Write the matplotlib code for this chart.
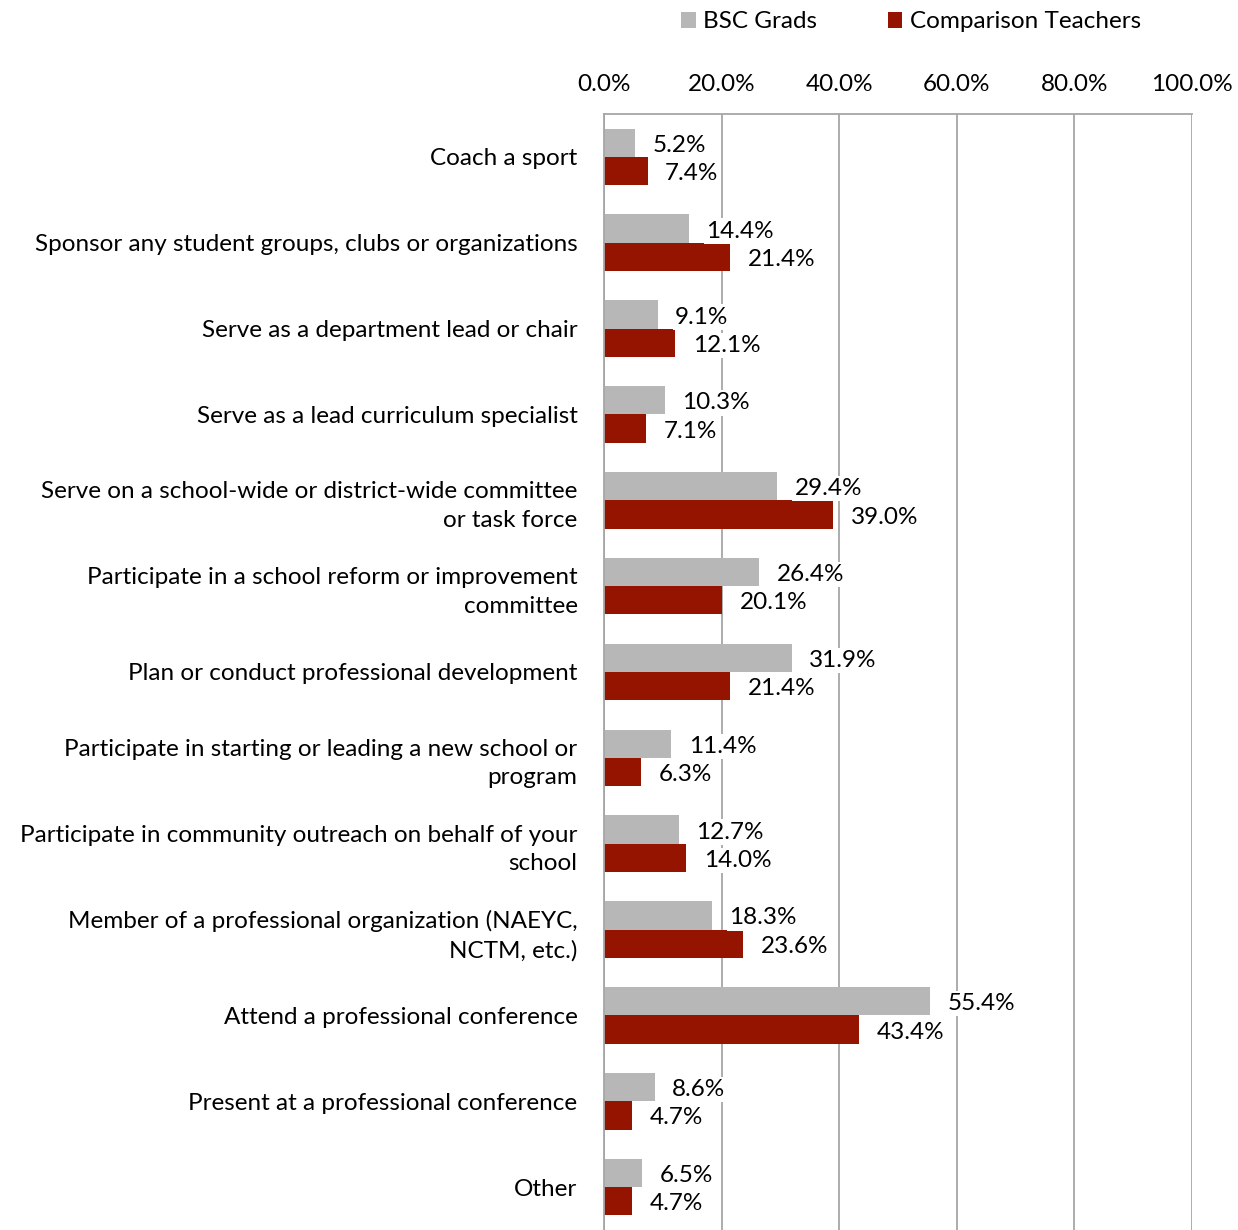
import numpy as np
import matplotlib.pyplot as plt
from matplotlib.ticker import FuncFormatter

plt.rcParams['font.family'] = ['Lato', 'DejaVu Sans']

categories = [
    'Coach a sport',
    'Sponsor any student groups, clubs or organizations',
    'Serve as a department lead or chair',
    'Serve as a lead curriculum specialist',
    'Serve on a school-wide or district-wide committee\nor task force',
    'Participate in a school reform or improvement\ncommittee',
    'Plan or conduct professional development',
    'Participate in starting or leading a new school or\nprogram',
    'Participate in community outreach on behalf of your\nschool',
    'Member of a professional organization (NAEYC,\nNCTM, etc.)',
    'Attend a professional conference',
    'Present at a professional conference',
    'Other',
]
bsc_grads = [5.2, 14.4, 9.1, 10.3, 29.4, 26.4, 31.9, 11.4, 12.7, 18.3, 55.4, 8.6, 6.5]
comparison = [7.4, 21.4, 12.1, 7.1, 39.0, 20.1, 21.4, 6.3, 14.0, 23.6, 43.4, 4.7, 4.7]
series_names = ['BSC Grads', 'Comparison Teachers']

GRAY = '#b7b7b7'
RED = '#951400'
GRID = '#a6a6a6'
FS = 17.5

fig = plt.figure(figsize=(12.38, 12.30), dpi=100)
ax = fig.add_axes([604 / 1238, 0.0, 588 / 1238, 1 - 114 / 1230])

y = np.arange(len(categories))
h = 0.33
b1 = ax.barh(y - h / 2, bsc_grads, height=h, color=GRAY, label=series_names[0], zorder=2)
b2 = ax.barh(y + h / 2, comparison, height=h, color=RED, label=series_names[1], zorder=2)

box = dict(facecolor='white', edgecolor='none', pad=1.5)
for yy, v in zip(y - h / 2, bsc_grads):
    ax.text(v + 3.0, yy + 0.03, f'{v:.1f}%', va='center', ha='left', fontsize=FS,
            bbox=box, zorder=3)
for yy, v in zip(y + h / 2, comparison):
    ax.text(v + 3.0, yy + 0.03, f'{v:.1f}%', va='center', ha='left', fontsize=FS,
            bbox=box, zorder=3)

ax.set_xlim(0, 100)
ax.set_ylim(len(categories) - 0.5, -0.5)
ax.set_xticks(np.arange(0, 101, 20))
ax.xaxis.set_major_formatter(FuncFormatter(lambda v, p: f'{v:.1f}%'))
ax.xaxis.tick_top()
ax.set_yticks(y)
ax.set_yticklabels(categories, fontsize=FS, linespacing=1.45)
ax.tick_params(axis='both', length=0, labelsize=FS)
ax.tick_params(axis='x', pad=14)
ax.tick_params(axis='y', pad=19)
ax.grid(axis='x', color=GRID, linewidth=1.3, zorder=0)
ax.set_axisbelow(True)
for s in ['bottom', 'right']:
    ax.spines[s].set_visible(False)
for s in ['top', 'left']:
    ax.spines[s].set_color(GRID)
    ax.spines[s].set_linewidth(1.3)

fig.legend(handles=[b1, b2], labels=series_names, loc='center', ncol=2,
           bbox_to_anchor=(911 / 1238, 1 - 22 / 1230), frameon=False, fontsize=FS,
           handlelength=0.6, handleheight=0.6, handletextpad=0.3, columnspacing=2.9)

fig.savefig('out.png', dpi=100)
